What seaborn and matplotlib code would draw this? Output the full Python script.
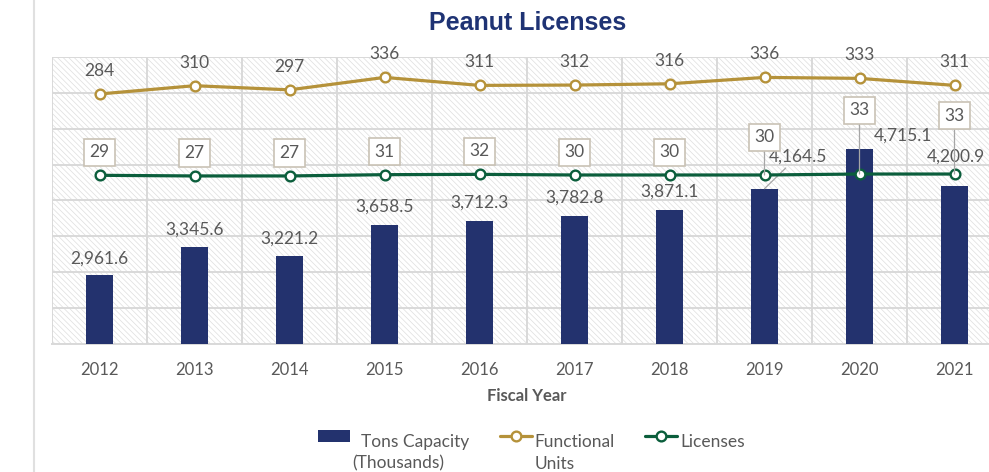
import numpy as np
import matplotlib
matplotlib.use("Agg")
import matplotlib.pyplot as plt
from matplotlib.lines import Line2D
from matplotlib.patches import Patch, Rectangle
from matplotlib.legend_handler import HandlerLine2D, HandlerPatch
from matplotlib.transforms import Affine2D
import seaborn as sns

YEARS = ["2012", "2013", "2014", "2015", "2016", "2017", "2018", "2019", "2020", "2021"]
TONS = [2961.6, 3345.6, 3221.2, 3658.5, 3712.3, 3782.8, 3871.1, 4164.5, 4715.1, 4200.9]
FUNCTIONAL = [284, 310, 297, 336, 311, 312, 316, 336, 333, 311]
LICENSES = [29, 27, 27, 31, 32, 30, 30, 30, 33, 33]

NAVY = "#23326e"
GOLD = "#b5923a"
GREEN = "#0b5e3c"
GRID = "#d9d9d9"
TXT = "#595959"
FS = 12.5

sns.set_theme(style="white")
plt.rcParams["font.family"] = ["Lato", "DejaVu Sans"]
plt.rcParams["hatch.linewidth"] = 0.5
plt.rcParams["hatch.color"] = "#dedede"


def raised(base):
    """Legend handler that lifts the handle to the first line of a 2-line label."""
    class _Raised(base):
        def create_artists(self, legend, orig_handle, xdescent, ydescent,
                           width, height, fontsize, trans):
            arts = super().create_artists(legend, orig_handle, xdescent, ydescent,
                                          width, height, fontsize, trans)
            for a in arts:
                a.set_transform(Affine2D().translate(0, 12) + trans)
            return arts
    return _Raised()


fig = plt.figure(figsize=(9.89, 4.72), dpi=100)
ax = fig.add_axes([52 / 989, 1 - 344 / 472, 950 / 989, 287 / 472])
ax2 = ax.twinx()

# fine hatched plot background
ax.add_patch(Rectangle((0, 0), 1, 1, transform=ax.transAxes, facecolor="white",
                       edgecolor="#dedede", hatch="\\" * 6, lw=0, zorder=0))

sns.barplot(x=YEARS, y=TONS, ax=ax, color=NAVY, width=0.29, saturation=1,
            zorder=3, linewidth=0)
sns.pointplot(x=YEARS, y=FUNCTIONAL, ax=ax2, color=GOLD, errorbar=None,
              markers="o", markersize=7, markerfacecolor="white",
              markeredgewidth=1.7, linewidth=2.3)
sns.pointplot(x=YEARS, y=LICENSES, ax=ax2, color=GREEN, errorbar=None,
              markers="o", markersize=7, markerfacecolor="white",
              markeredgewidth=1.7, linewidth=2.3)

ax.set_xlim(-0.5, len(YEARS) - 0.5)
ax.set_ylim(2000, 6000)
ax2.set_ylim(-500, 400)

# grid: horizontal every 500 tons, vertical on category boundaries
ax.set_yticks(np.arange(2000, 6001, 500))
ax.set_xticks(np.arange(-0.5, len(YEARS)), minor=True)
ax.grid(True, axis="y", which="major", color=GRID, lw=1.4, zorder=1)
ax.grid(True, axis="x", which="minor", color=GRID, lw=1.4, zorder=1)
ax.grid(False, axis="x", which="major")
ax.set_axisbelow(True)
ax.tick_params(axis="y", left=False, labelleft=False)
ax2.tick_params(axis="y", right=False, labelright=False)
ax2.grid(False)
ax.tick_params(axis="x", which="major", length=0, pad=13, labelsize=12, labelcolor=TXT)
ax.tick_params(axis="x", which="minor", length=6, width=1.4, color=GRID)
for a in (ax, ax2):
    for s in a.spines.values():
        s.set_visible(False)
ax.spines["bottom"].set_visible(True)
ax.spines["bottom"].set_color(GRID)
ax.spines["bottom"].set_linewidth(1.4)
ax.set_ylabel("")
ax2.set_ylabel("")
ax.set_xlabel("Fiscal Year", fontsize=12, fontweight="bold", color=TXT, labelpad=7.5)

lead = dict(arrowstyle="-", color="#a6a6a6", lw=0.9, shrinkA=0, shrinkB=0)

# bar value labels (offsets in points)
bar_off = [(0, 12), (0, 13), (0, 13), (0, 13), (0, 13), (0, 13), (0, 13), (24, 23), (31, 10), (1, 21)]
for i, (v, off) in enumerate(zip(TONS, bar_off)):
    ax.annotate(f"{v:,.1f}", xy=(i, v), xytext=off, textcoords="offset points",
                ha="center", va="center", fontsize=FS, color=TXT,
                arrowprops=dict(lead, relpos=(0.35, 0)) if i == 7 else None, zorder=5)

# functional units labels
for i, v in enumerate(FUNCTIONAL):
    ax2.annotate(f"{v}", xy=(i, v), xytext=(0, 16.5), textcoords="offset points",
                 ha="center", va="center", fontsize=FS, color=TXT)

# licenses labels in boxes
lic_off = [16.5, 16.5, 16.5, 16.5, 16.5, 16.5, 16.5, 27, 46, 42]
box = dict(boxstyle="square,pad=0.32", fc="white", ec="#c9c2b5", lw=1.2)
for i, (v, dy) in enumerate(zip(LICENSES, lic_off)):
    ax2.annotate(f"{v}", xy=(i, v), xytext=(0, dy), textcoords="offset points",
                 ha="center", va="center", fontsize=FS, color=TXT, bbox=box,
                 arrowprops=dict(lead, relpos=(0.5, 0)) if i >= 7 else None)

fig.text(0.533, 0.952, "Peanut Licenses", ha="center", va="center", fontsize=18,
         fontweight="bold", color="#1f3374", family=["Liberation Sans", "DejaVu Sans"])

# page border on the left
fig.add_artist(Line2D([34 / 989, 34 / 989], [0, 1], transform=fig.transFigure,
                      color="#e0e0e0", lw=1.5))

handles = [
    Patch(facecolor=NAVY, edgecolor="none"),
    Line2D([], [], color=GOLD, lw=2.3, marker="o", markersize=7,
           markerfacecolor="white", markeredgewidth=1.7),
    Line2D([], [], color=GREEN, lw=2.3, marker="o", markersize=7,
           markerfacecolor="white", markeredgewidth=1.7),
]
labels = ["  Tons Capacity\n(Thousands)", "Functional\nUnits", "Licenses\n "]
leg = fig.legend(handles, labels, loc="center", bbox_to_anchor=(0.537, 0.041), ncol=3,
                 frameon=False, labelcolor=TXT, handlelength=1.85,
                 handletextpad=0.15, columnspacing=1.75, prop={"size": FS},
                 handler_map={Patch: raised(HandlerPatch),
                              Line2D: raised(HandlerLine2D)})
for t in leg.get_texts():
    t.set_linespacing(1.45)

fig.savefig("out.png", dpi=100)
